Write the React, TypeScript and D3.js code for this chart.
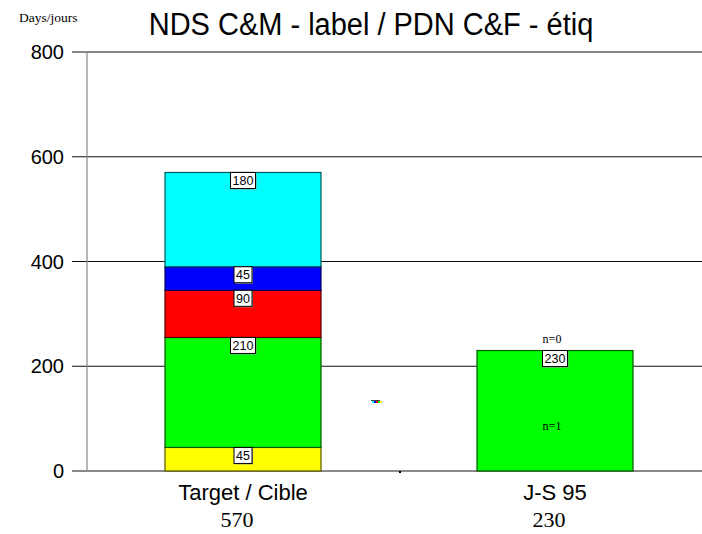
import React from "react";
import * as d3 from "d3";

const categories = ["Target / Cible", "J-S 95"];
const totalLabels = ["570", "230"];
const phaseKeys = ["p1", "p2", "p3", "p4", "p5"];
const phaseColors = ["#ffff00", "#00ff00", "#ff0000", "#0000ff", "#00ffff"];
const targetValues = [45, 210, 90, 45, 180];
const jsValues = [0, 230, 0, 0, 0];
const yTicks = [0, 200, 400, 600, 800];
const nTopLabels = ["", "n=0"];
const nInsideLabels = ["", "n=1"];

const W = 702;
const H = 534;

export default function App() {
  const y = d3.scaleLinear().domain([0, 800]).range([471, 52]);
  const x = d3
    .scaleBand<string>()
    .domain(categories)
    .range([87, 711])
    .paddingInner(0.5)
    .paddingOuter(0.25);

  const rows = [targetValues, jsValues].map((vals, i) => {
    const o: any = { cat: categories[i] };
    phaseKeys.forEach((k, j) => (o[k] = vals[j]));
    return o;
  });
  const series = d3.stack().keys(phaseKeys)(rows as any);

  const bw = x.bandwidth();
  const fontSans = "Liberation Sans, Arial, sans-serif";
  const fontSerif = "Liberation Serif, Times New Roman, serif";

  const boxes: any[] = [];
  series.forEach((s) => {
    s.forEach((d: any, ci) => {
      const v = d[1] - d[0];
      if (v <= 0) return;
      boxes.push({ cx: x(categories[ci])! + bw / 2, top: y(d[1]), label: String(v) });
    });
  });

  return (
    <svg
      width={W}
      height={H}
      style={{ position: "absolute", left: 0, top: 0, background: "#fff" }}
    >
      {/* title */}
      <text x={371} y={35} textAnchor="middle" fontFamily={fontSans} fontSize={29} transform="translate(371,35) scale(1,1.05) translate(-371,-35)">
        NDS C&amp;M - label / PDN C&amp;F - étiq
      </text>
      <text x={19} y={22} fontFamily={fontSerif} fontSize={13.5}>
        Days/jours
      </text>

      {/* gridlines and ticks */}
      {yTicks.map((t) => (
        <g key={t}>
          <line
            x1={72}
            x2={W}
            y1={y(t)}
            y2={y(t)}
            stroke={t === 0 ? "#888" : "#111"}
            strokeWidth={t === 0 ? 2 : 1.2}
          />
          <text
            x={64}
            y={y(t)}
            dy="0.35em"
            textAnchor="end"
            fontFamily={fontSans}
            fontSize={20}
          >
            {t}
          </text>
        </g>
      ))}
      <line x1={87} x2={87} y1={y(800)} y2={y(0)} stroke="#888" strokeWidth={1.2} />
      <line x1={400} x2={400} y1={y(0)} y2={y(0) + 2} stroke="#000" strokeWidth={2} />

      {/* bars */}
      {series.map((s, si) =>
        s.map((d: any, ci) => {
          if (d[1] - d[0] <= 0) return null;
          const c = phaseColors[si];
          return (
            <rect
              key={si + "-" + ci}
              x={x(categories[ci])}
              y={y(d[1])}
              width={bw}
              height={y(d[0]) - y(d[1])}
              fill={c}
              stroke={d3.color(c)!.darker(3).toString()}
              strokeWidth={1.2}
            />
          );
        })
      )}

      {/* value boxes */}
      {boxes.map((b, i) => {
        const w = b.label.length * 7 + 4;
        return (
          <g key={i}>
            <rect x={b.cx - w / 2 + 1} y={b.top + 1} width={w} height={16} fill="#999" />
            <rect x={b.cx - w / 2} y={b.top} width={w} height={16} fill="#fff" stroke="#000" strokeWidth={1} />
            <text
              x={b.cx}
              y={b.top + 12.5}
              textAnchor="middle"
              fontFamily={fontSans}
              fontSize={12.5}
            >
              {b.label}
            </text>
          </g>
        );
      })}

      {/* n labels */}
      {categories.map((c, i) => (
        <g key={c}>
          {nTopLabels[i] && (
            <text
              x={x(c)! + bw / 2 - 3}
              y={y(230) - 8}
              textAnchor="middle"
              fontFamily={fontSerif}
              fontSize={12}
            >
              {nTopLabels[i]}
            </text>
          )}
          {nInsideLabels[i] && (
            <text
              x={x(c)! + bw / 2 - 3}
              y={430}
              textAnchor="middle"
              fontFamily={fontSerif}
              fontSize={12}
            >
              {nInsideLabels[i]}
            </text>
          )}
          <text
            x={x(c)! + bw / 2}
            y={500}
            textAnchor="middle"
            fontFamily={fontSans}
            fontSize={22}
          >
            {c}
          </text>
          <text
            x={x(c)! + bw / 2 - 6}
            y={527}
            textAnchor="middle"
            fontFamily={fontSerif}
            fontSize={22}
          >
            {totalLabels[i]}
          </text>
        </g>
      ))}

      {/* small legend artifact */}
      <g>
        <rect x={371} y={400} width={9} height={1} fill="#444" />
        {phaseColors
          .slice()
          .reverse()
          .map((c, i) => (
            <rect key={c} x={372 + i * 2} y={401} width={2} height={2} fill={c} />
          ))}
      </g>
    </svg>
  );
}
